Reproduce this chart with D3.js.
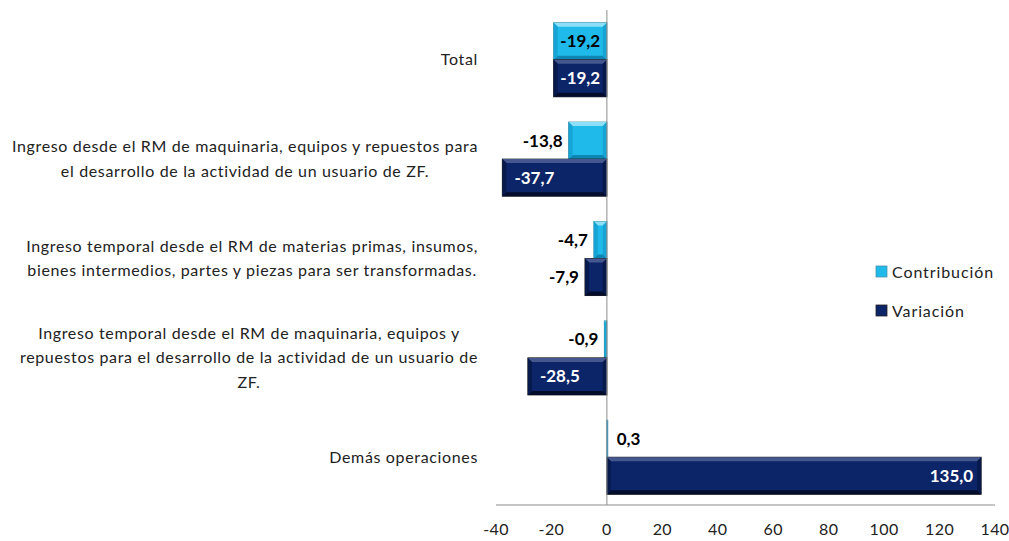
<!DOCTYPE html>
<html>
<head>
<meta charset="utf-8">
<script src="https://cdn.jsdelivr.net/npm/d3@7"></script>
<style>
  body { margin: 0; background: #fff; }
  text { font-family: Lato, "Open Sans", sans-serif; }
</style>
</head>
<body>
<div class="chart"></div>
<script>
// categories (each line of a label is one entry)
var categories = [
  ["Total"],
  ["Ingreso desde el RM de maquinaria, equipos y repuestos para", "el desarrollo de la actividad de un usuario de ZF."],
  ["Ingreso temporal desde el RM de materias primas, insumos,", "bienes intermedios, partes y piezas para ser transformadas."],
  ["Ingreso temporal desde el RM de maquinaria, equipos y", "repuestos para el desarrollo de la actividad de un usuario de", "ZF."],
  ["Demás operaciones"]
];
var contribucion = [-19.2, -13.8, -4.7, -0.9, 0.3];
var variacion = [-19.2, -37.7, -7.9, -28.5, 135.0];
var seriesNames = ["Contribución", "Variación"];
var xTicks = [-40, -20, 0, 20, 40, 60, 80, 100, 120, 140];

var svgWidth = 1009, svgHeight = 541;

var svg = d3.select(".chart").append("svg")
    .attr("width", svgWidth)
    .attr("height", svgHeight);

var x = d3.scaleLinear().domain([-40, 140]).range([496, 995]);
var y = d3.scaleBand().domain(d3.range(categories.length)).range([10, 507]).paddingInner(0.255).paddingOuter(0.128);
var ySub = d3.scaleBand().domain([0, 1]).range([0, y.bandwidth()]);

var styles = [
  {face: "#1fbaea", top: "#8ddff8", bottom: "#0d86b4", side: "#16a4d4", stroke: "#4a93ad", inText: "#000"},
  {face: "#0c2468", top: "#44578f", bottom: "#040c2c", side: "#08194c", stroke: "#222", inText: "#fff"}
];

// horizontal axis line
svg.append("line")
    .attr("x1", x(-40)).attr("x2", x(140))
    .attr("y1", y.range()[1] - 2).attr("y2", y.range()[1] - 2)
    .attr("stroke", "#8c8c8c").attr("stroke-width", 1);

// tick labels
svg.append("g").selectAll("text")
    .data(xTicks)
    .enter().append("text")
    .attr("x", function(d) { return x(d); })
    .attr("y", 541 - 6)
    .attr("text-anchor", "middle")
    .attr("font-size", "16px")
    .attr("letter-spacing", "0.4px")
    .attr("fill", "#222")
    .text(function(d) { return d; });

// bevelled bar helper
function bevelBar(g, x0, x1, y0, y1, st) {
  var b = Math.min(4, (x1 - x0) / 2, (y1 - y0) / 2);
  g.append("rect").attr("x", x0).attr("y", y0).attr("width", x1 - x0).attr("height", y1 - y0)
      .attr("fill", st.face).attr("stroke", st.stroke).attr("stroke-width", 1);
  var poly = function(pts, fill) {
    g.append("path").attr("d", "M" + pts.map(function(p) { return p.join(","); }).join("L") + "Z").attr("fill", fill);
  };
  poly([[x0, y0], [x1, y0], [x1 - b, y0 + b], [x0 + b, y0 + b]], st.top);
  poly([[x0, y1], [x1, y1], [x1 - b, y1 - b], [x0 + b, y1 - b]], st.bottom);
  poly([[x0, y0], [x0 + b, y0 + b], [x0 + b, y1 - b], [x0, y1]], st.side);
  poly([[x1, y0], [x1 - b, y0 + b], [x1 - b, y1 - b], [x1, y1]], st.side);
}

var fmt = function(v) { return d3.format(".1f")(v).replace("\u2212", "-").replace(".", ","); };

var bars = svg.append("g");
var labels = svg.append("g");

[contribucion, variacion].forEach(function(series, si) {
  series.forEach(function(v, i) {
    var y0 = y(i) + ySub(si), y1 = y0 + ySub.bandwidth();
    var xa = x(Math.min(0, v)), xb = x(Math.max(0, v));
    var g = bars.append("g");
    bevelBar(g, xa, xb, y0, y1, styles[si]);

    var t = labels.append("text")
        .attr("y", (y0 + y1) / 2)
        .attr("dy", "0.35em")
        .attr("font-size", "17px")
        .attr("font-weight", "bold")
        .text(fmt(v));
    var w = t.node().getComputedTextLength();
    if (w + 10 <= xb - xa) {
      // inside end
      var pad = Math.min(12, (xb - xa - w) / 2);
      t.attr("fill", styles[si].inText);
      if (v < 0) t.attr("x", xa + pad).attr("text-anchor", "start");
      else t.attr("x", xb - pad + 4).attr("text-anchor", "end");
    } else {
      t.attr("fill", "#000");
      if (v < 0) t.attr("x", xa - 6).attr("text-anchor", "end");
      else t.attr("x", xb + 9).attr("text-anchor", "start");
    }
  });
});

// zero line
svg.append("line")
    .attr("x1", x(0)).attr("x2", x(0))
    .attr("y1", y.range()[0]).attr("y2", y.range()[1] - 2)
    .attr("stroke", "#8c8c8c").attr("stroke-width", 1);

// category labels: block right-aligned, lines centred inside block
var labelRight = 478, lineH = 24.5;
categories.forEach(function(lines, i) {
  var g = svg.append("g");
  var cy = y(i) + y.bandwidth() / 2;
  var texts = lines.map(function(s, k) {
    return g.append("text")
        .attr("y", cy + (k - (lines.length - 1) / 2) * lineH)
        .attr("dy", "0.35em")
        .attr("font-size", "16px")
        .attr("letter-spacing", "0.65px")
        .attr("fill", "#222")
        .attr("text-anchor", "middle")
        .text(s);
  });
  var maxW = d3.max(texts, function(t) { return t.node().getComputedTextLength(); });
  texts.forEach(function(t) { t.attr("x", labelRight - maxW / 2); });
});

// legend
var legend = svg.append("g");
seriesNames.forEach(function(name, si) {
  var ly = 272 + si * 39;
  legend.append("rect").attr("x", 876).attr("y", ly - 6).attr("width", 11).attr("height", 11)
      .attr("fill", styles[si].face).attr("stroke", styles[si].stroke).attr("stroke-width", 0.8);
  legend.append("text").attr("x", 892).attr("y", ly).attr("dy", "0.35em")
      .attr("font-size", "16px").attr("letter-spacing", "0.9px").attr("fill", "#222").text(name);
});
</script>
</body>
</html>
